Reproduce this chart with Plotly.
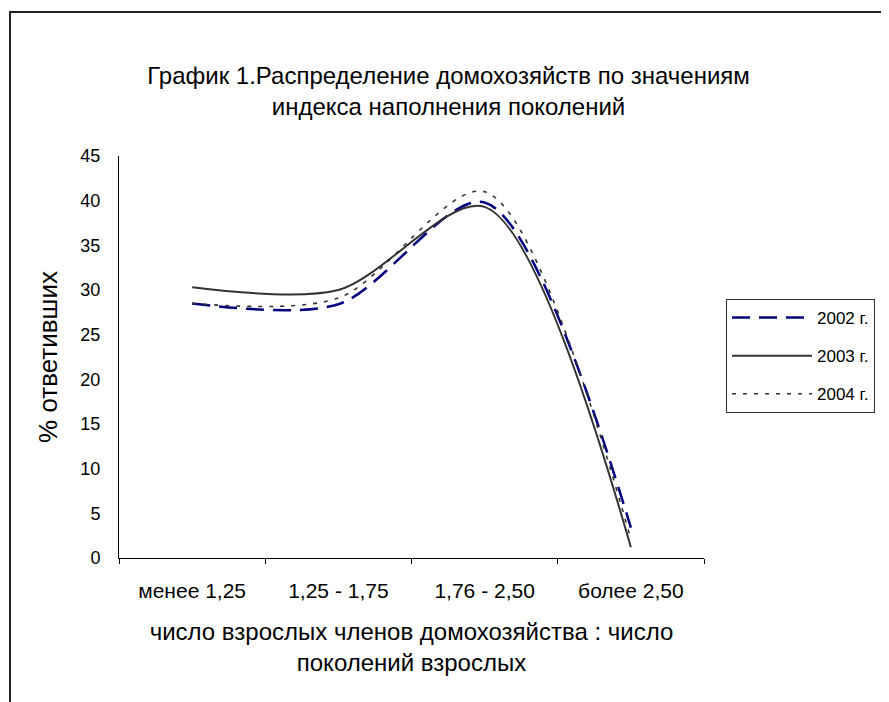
import plotly.graph_objects as go

categories = ["менее 1,25", "1,25 - 1,75", "1,76 - 2,50", "более 2,50"]
y_2002 = [28.5, 28.4, 39.8, 3.4]
y_2003 = [30.3, 30.0, 39.3, 1.2]
y_2004 = [28.5, 29.1, 41.0, 2.1]
series_names = ["2002 г.", "2003 г.", "2004 г."]
y_ticks = [0, 5, 10, 15, 20, 25, 30, 35, 40, 45]

FONT = "Arial, Liberation Sans, sans-serif"
OFF = 8  # page body margin
W, H = 889 - OFF, 702 - OFF
# plot area in reference pixels
L, R, T, B = 119 - OFF, 704 - OFF, 156 - OFF, 558 - OFF
SMOOTH = 0.85

def px(x):
    return (x - OFF - L) / (R - L)

def py(y):
    return (B - (y - OFF)) / (B - T)

fig = go.Figure()
fig.add_trace(go.Scatter(x=categories, y=y_2002, name=series_names[0], mode="lines",
                         line=dict(color="#000080", width=2.5, dash="18px,9px", shape="spline", smoothing=SMOOTH),
                         legendgroup="a"))
fig.add_trace(go.Scatter(x=categories, y=y_2003, name=series_names[1], mode="lines",
                         line=dict(color="#333333", width=2, shape="spline", smoothing=SMOOTH),
                         legendgroup="b"))
fig.add_trace(go.Scatter(x=categories, y=y_2004, name=series_names[2], mode="lines",
                         line=dict(color="#333333", width=1.6, dash="4px,7px", shape="spline", smoothing=SMOOTH),
                         legendgroup="c"))

fig.update_layout(
    width=W, height=H,
    margin=dict(l=L, r=W - R, t=T, b=H - B, autoexpand=False),
    paper_bgcolor="white", plot_bgcolor="white",
    font=dict(family=FONT, size=18, color="black"),
    title=dict(text="График 1.Распределение домохозяйств по значениям<br>индекса наполнения поколений",
               x=0.5, xanchor="center", y=1 - (84 - OFF) / H, yanchor="middle",
               font=dict(size=24, family=FONT, color="black")),
    showlegend=True,
    legend=dict(x=px(726), y=py(299), xanchor="left", yanchor="top",
                bgcolor="white", bordercolor="#333333", borderwidth=1,
                font=dict(size=17, family=FONT, color="black"),
                tracegroupgap=13, traceorder="grouped", itemwidth=80),
    xaxis=dict(type="category", range=[-0.5, 3.5], showline=True, linecolor="black", linewidth=1,
               showgrid=False, zeroline=False, ticks="outside", ticklen=5, tickcolor="black",
               tickson="boundaries", ticklabelstandoff=14, tickfont=dict(size=21, family=FONT),
               title=dict(text="число взрослых членов домохозяйства : число<br>поколений взрослых",
                          font=dict(size=24, family=FONT), standoff=21)),
    yaxis=dict(range=[0, 45], tickvals=y_ticks, showline=True, linecolor="black", linewidth=1,
               showgrid=False, zeroline=False, ticks="", ticklabelstandoff=14,
               tickfont=dict(size=18, family=FONT),
               title=dict(text="% ответивших", font=dict(size=26, family=FONT), standoff=15)),
    shapes=[dict(type="rect", xref="paper", yref="paper",
                 x0=px(10), x1=px(920), y0=py(740), y1=py(12),
                 line=dict(color="#222222", width=2), fillcolor="rgba(0,0,0,0)", layer="below")],
)

fig.write_html("out.html")
